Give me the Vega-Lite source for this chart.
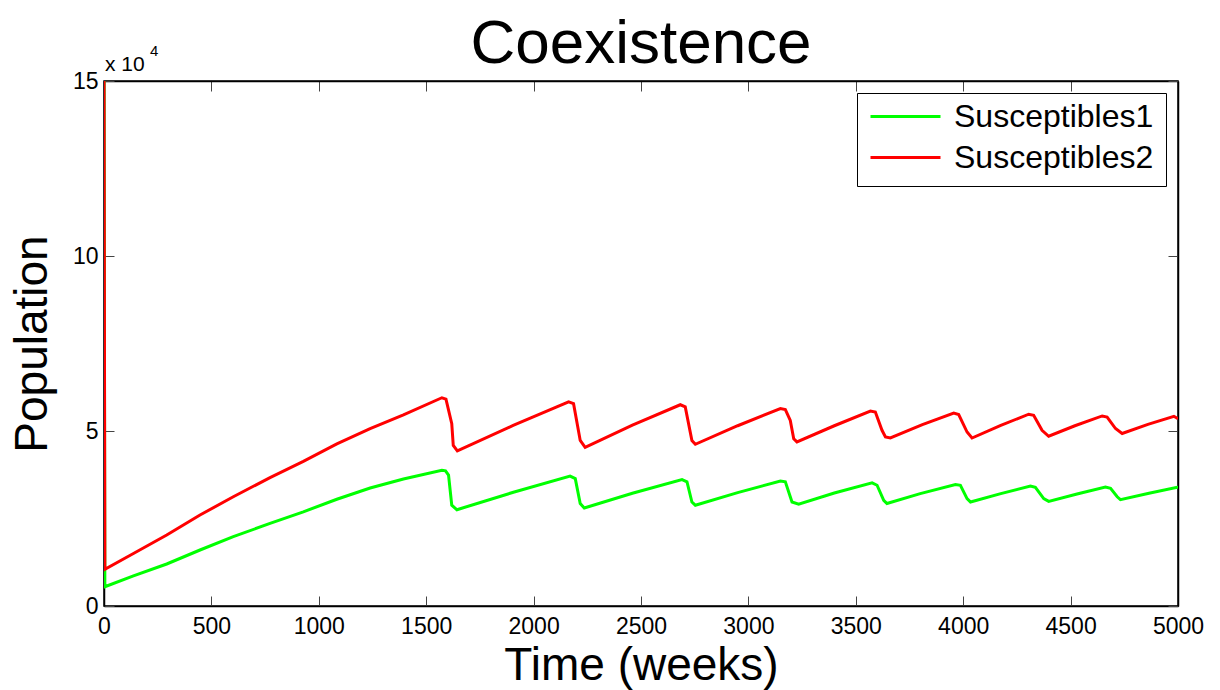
{
  "$schema": "https://vega.github.io/schema/vega-lite/v6.json",
  "width": 1074,
  "height": 525,
  "autosize": {"type": "none"},
  "padding": {"left": 104, "top": 81, "right": 42, "bottom": 84},
  "background": "white",
  "title": {"text": "Coexistence", "fontSize": 62, "font": "Liberation Sans", "fontWeight": "normal", "color": "black", "anchor": "middle", "baseline": "alphabetic", "offset": -13, "dy": 68},
  "config": {
    "view": {"stroke": "black", "strokeWidth": 1.5},
    "axis": {"grid": false, "labelFont": "Liberation Sans", "labelFontSize": 23, "labelColor": "black", "tickColor": "#444", "tickSize": -10, "tickWidth": 1, "domainColor": "black", "domainWidth": 1.5, "titleFont": "Liberation Sans", "titleFontSize": 46, "titleFontWeight": "normal", "titleColor": "black", "labelFlush": false, "labelOverlap": false, "labelBound": false}
  },
  "datasets": {
    "pop": [
      {"t": 0, "series": "Susceptibles1", "pop": 150000},
      {"t": 4, "series": "Susceptibles1", "pop": 5500},
      {"t": 137, "series": "Susceptibles1", "pop": 8600},
      {"t": 292, "series": "Susceptibles1", "pop": 12000},
      {"t": 447, "series": "Susceptibles1", "pop": 16000},
      {"t": 602, "series": "Susceptibles1", "pop": 19800},
      {"t": 773, "series": "Susceptibles1", "pop": 23600},
      {"t": 928, "series": "Susceptibles1", "pop": 26900},
      {"t": 1084, "series": "Susceptibles1", "pop": 30500},
      {"t": 1239, "series": "Susceptibles1", "pop": 33700},
      {"t": 1394, "series": "Susceptibles1", "pop": 36300},
      {"t": 1573, "series": "Susceptibles1", "pop": 38800},
      {"t": 1590, "series": "Susceptibles1", "pop": 38600},
      {"t": 1604, "series": "Susceptibles1", "pop": 37400},
      {"t": 1619, "series": "Susceptibles1", "pop": 28800},
      {"t": 1643, "series": "Susceptibles1", "pop": 27500},
      {"t": 1906, "series": "Susceptibles1", "pop": 32500},
      {"t": 2170, "series": "Susceptibles1", "pop": 37100},
      {"t": 2194, "series": "Susceptibles1", "pop": 36400},
      {"t": 2217, "series": "Susceptibles1", "pop": 29300},
      {"t": 2236, "series": "Susceptibles1", "pop": 28000},
      {"t": 2460, "series": "Susceptibles1", "pop": 32200},
      {"t": 2691, "series": "Susceptibles1", "pop": 36100},
      {"t": 2714, "series": "Susceptibles1", "pop": 35500},
      {"t": 2737, "series": "Susceptibles1", "pop": 29700},
      {"t": 2753, "series": "Susceptibles1", "pop": 28800},
      {"t": 2950, "series": "Susceptibles1", "pop": 32400},
      {"t": 3149, "series": "Susceptibles1", "pop": 35700},
      {"t": 3172, "series": "Susceptibles1", "pop": 35500},
      {"t": 3203, "series": "Susceptibles1", "pop": 29700},
      {"t": 3234, "series": "Susceptibles1", "pop": 29100},
      {"t": 3400, "series": "Susceptibles1", "pop": 32300},
      {"t": 3576, "series": "Susceptibles1", "pop": 35200},
      {"t": 3599, "series": "Susceptibles1", "pop": 34500},
      {"t": 3630, "series": "Susceptibles1", "pop": 30200},
      {"t": 3645, "series": "Susceptibles1", "pop": 29300},
      {"t": 3800, "series": "Susceptibles1", "pop": 32100},
      {"t": 3964, "series": "Susceptibles1", "pop": 34700},
      {"t": 3987, "series": "Susceptibles1", "pop": 34500},
      {"t": 4018, "series": "Susceptibles1", "pop": 30700},
      {"t": 4034, "series": "Susceptibles1", "pop": 29700},
      {"t": 4175, "series": "Susceptibles1", "pop": 32100},
      {"t": 4313, "series": "Susceptibles1", "pop": 34300},
      {"t": 4336, "series": "Susceptibles1", "pop": 33900},
      {"t": 4375, "series": "Susceptibles1", "pop": 30700},
      {"t": 4398, "series": "Susceptibles1", "pop": 29900},
      {"t": 4530, "series": "Susceptibles1", "pop": 32000},
      {"t": 4662, "series": "Susceptibles1", "pop": 34000},
      {"t": 4686, "series": "Susceptibles1", "pop": 33600},
      {"t": 4717, "series": "Susceptibles1", "pop": 31200},
      {"t": 4732, "series": "Susceptibles1", "pop": 30400},
      {"t": 4865, "series": "Susceptibles1", "pop": 32200},
      {"t": 4996, "series": "Susceptibles1", "pop": 33900},
      {"t": 5000, "series": "Susceptibles1", "pop": 33800},
      {"t": 0, "series": "Susceptibles2", "pop": 150000},
      {"t": 4, "series": "Susceptibles2", "pop": 10500},
      {"t": 137, "series": "Susceptibles2", "pop": 15000},
      {"t": 292, "series": "Susceptibles2", "pop": 20300},
      {"t": 447, "series": "Susceptibles2", "pop": 26000},
      {"t": 602, "series": "Susceptibles2", "pop": 31200},
      {"t": 773, "series": "Susceptibles2", "pop": 36700},
      {"t": 928, "series": "Susceptibles2", "pop": 41300},
      {"t": 1084, "series": "Susceptibles2", "pop": 46300},
      {"t": 1239, "series": "Susceptibles2", "pop": 50700},
      {"t": 1394, "series": "Susceptibles2", "pop": 54600},
      {"t": 1573, "series": "Susceptibles2", "pop": 59500},
      {"t": 1592, "series": "Susceptibles2", "pop": 59100},
      {"t": 1619, "series": "Susceptibles2", "pop": 52100},
      {"t": 1626, "series": "Susceptibles2", "pop": 45900},
      {"t": 1645, "series": "Susceptibles2", "pop": 44300},
      {"t": 1905, "series": "Susceptibles2", "pop": 51600},
      {"t": 2163, "series": "Susceptibles2", "pop": 58300},
      {"t": 2186, "series": "Susceptibles2", "pop": 57800},
      {"t": 2217, "series": "Susceptibles2", "pop": 47300},
      {"t": 2240, "series": "Susceptibles2", "pop": 45300},
      {"t": 2460, "series": "Susceptibles2", "pop": 51700},
      {"t": 2683, "series": "Susceptibles2", "pop": 57500},
      {"t": 2706, "series": "Susceptibles2", "pop": 56900},
      {"t": 2737, "series": "Susceptibles2", "pop": 47300},
      {"t": 2753, "series": "Susceptibles2", "pop": 46200},
      {"t": 2950, "series": "Susceptibles2", "pop": 51500},
      {"t": 3149, "series": "Susceptibles2", "pop": 56400},
      {"t": 3172, "series": "Susceptibles2", "pop": 56100},
      {"t": 3195, "series": "Susceptibles2", "pop": 53000},
      {"t": 3211, "series": "Susceptibles2", "pop": 47800},
      {"t": 3226, "series": "Susceptibles2", "pop": 46900},
      {"t": 3400, "series": "Susceptibles2", "pop": 51500},
      {"t": 3568, "series": "Susceptibles2", "pop": 55700},
      {"t": 3591, "series": "Susceptibles2", "pop": 55400},
      {"t": 3622, "series": "Susceptibles2", "pop": 50200},
      {"t": 3638, "series": "Susceptibles2", "pop": 48300},
      {"t": 3661, "series": "Susceptibles2", "pop": 48000},
      {"t": 3810, "series": "Susceptibles2", "pop": 51800},
      {"t": 3956, "series": "Susceptibles2", "pop": 55100},
      {"t": 3979, "series": "Susceptibles2", "pop": 54700},
      {"t": 4018, "series": "Susceptibles2", "pop": 49700},
      {"t": 4041, "series": "Susceptibles2", "pop": 48000},
      {"t": 4175, "series": "Susceptibles2", "pop": 51600},
      {"t": 4305, "series": "Susceptibles2", "pop": 54800},
      {"t": 4328, "series": "Susceptibles2", "pop": 54500},
      {"t": 4367, "series": "Susceptibles2", "pop": 50200},
      {"t": 4398, "series": "Susceptibles2", "pop": 48500},
      {"t": 4520, "series": "Susceptibles2", "pop": 51500},
      {"t": 4647, "series": "Susceptibles2", "pop": 54300},
      {"t": 4670, "series": "Susceptibles2", "pop": 54000},
      {"t": 4709, "series": "Susceptibles2", "pop": 50700},
      {"t": 4740, "series": "Susceptibles2", "pop": 49300},
      {"t": 4860, "series": "Susceptibles2", "pop": 51900},
      {"t": 4981, "series": "Susceptibles2", "pop": 54200},
      {"t": 5000, "series": "Susceptibles2", "pop": 53500}
    ]
  },
  "layer": [
    {
      "data": {"name": "pop"},
      "mark": {"type": "line", "strokeWidth": 3, "clip": true},
      "encoding": {
        "x": {"field": "t", "type": "quantitative", "scale": {"domain": [0, 5000], "nice": false, "zero": false},
              "axis": {"orient": "bottom", "values": [0, 500, 1000, 1500, 2000, 2500, 3000, 3500, 4000, 4500, 5000], "format": "d", "title": "Time (weeks)", "labelPadding": 19, "titlePadding": 5}},
        "y": {"field": "pop", "type": "quantitative", "scale": {"domain": [0, 150000], "nice": false},
              "axis": {"orient": "left", "values": [0, 50000, 100000, 150000], "labelExpr": "format(datum.value / 10000, 'd')", "title": "Population", "labelPadding": 16, "titlePadding": 16}},
        "color": {"field": "series", "type": "nominal",
                  "scale": {"domain": ["Susceptibles1", "Susceptibles2"], "range": ["#00ff00", "#ff0000"]},
                  "legend": {"title": null, "orient": "top-right", "offset": 12, "fillColor": "white", "strokeColor": "black", "symbolType": "stroke", "symbolSize": 4900, "symbolStrokeWidth": 3, "symbolOpacity": 1, "labelFont": "Liberation Sans", "labelFontSize": 32, "labelColor": "black", "labelOffset": 12, "labelLimit": 400, "padding": 12, "clipHeight": 23, "rowPadding": 8}}
      }
    },
    {
      "data": {"name": "pop"},
      "mark": {"type": "line", "opacity": 0},
      "encoding": {
        "x": {"field": "t", "type": "quantitative", "axis": {"orient": "top", "values": [0, 500, 1000, 1500, 2000, 2500, 3000, 3500, 4000, 4500, 5000], "labels": false, "title": null}},
        "y": {"field": "pop", "type": "quantitative", "axis": {"orient": "right", "values": [0, 50000, 100000, 150000], "labels": false, "title": null}}
      }
    },
    {
      "data": {"values": [{"note": "x 10", "exp": "4"}]},
      "mark": {"type": "text", "font": "Liberation Sans", "fontSize": 21, "color": "black", "align": "left", "baseline": "alphabetic", "dx": 1, "dy": -10},
      "encoding": {
        "x": {"datum": 0, "type": "quantitative", "axis": null},
        "y": {"datum": 150000, "type": "quantitative", "axis": null},
        "text": {"field": "note"}
      }
    },
    {
      "data": {"values": [{"note": "x 10", "exp": "4"}]},
      "mark": {"type": "text", "font": "Liberation Sans", "fontSize": 15, "color": "black", "align": "left", "baseline": "alphabetic", "dx": 46, "dy": -25},
      "encoding": {
        "x": {"datum": 0, "type": "quantitative", "axis": null},
        "y": {"datum": 150000, "type": "quantitative", "axis": null},
        "text": {"field": "exp"}
      }
    }
  ],
  "resolve": {"axis": {"x": "independent", "y": "independent"}}
}
